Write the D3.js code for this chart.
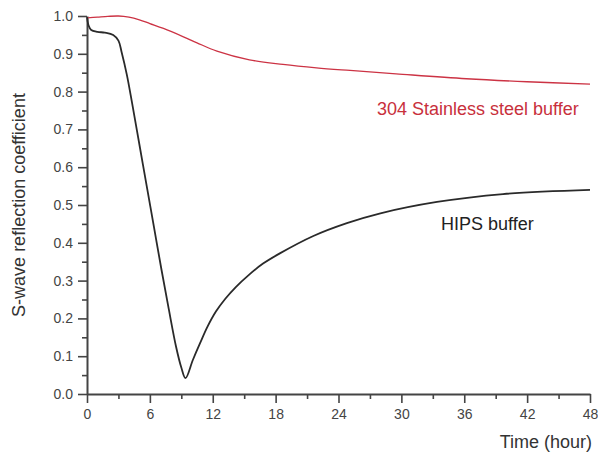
<!DOCTYPE html>
<html>
<head>
<meta charset="utf-8">
<script src="https://d3js.org/d3.v7.min.js"></script>
<style>
  body { margin: 0; background: #fff; }
  text { font-family: "Liberation Sans", Arial, sans-serif; }
</style>
</head>
<body>
<div id="chart-area"></div>
<script>
// data
var hipsTime = [0, 0.15, 0.4, 1, 1.7, 2.5, 3, 3.3, 3.8, 4.3, 5, 5.7, 6.4, 7.1, 7.8, 8.5, 9.0, 9.4, 10.1, 10.8, 11.5, 12.3, 13.2, 14.2, 15.4, 16.8, 18.4, 21.6, 24.8, 28, 33.4, 39.7, 48];
var hipsVal  = [0.997, 0.975, 0.963, 0.958, 0.956, 0.950, 0.935, 0.905, 0.845, 0.77, 0.66, 0.55, 0.44, 0.33, 0.225, 0.125, 0.07, 0.042, 0.09, 0.135, 0.178, 0.218, 0.252, 0.283, 0.314, 0.345, 0.372, 0.418, 0.452, 0.478, 0.508, 0.529, 0.540];

var steelTime = [0, 1, 2, 3, 4, 5, 6, 7.3, 9.2, 10.5, 12.4, 15.5, 18.7, 21.9, 25.1, 29.5, 36.2, 42, 48];
var steelVal  = [0.995, 0.997, 0.999, 1.0, 0.997, 0.99, 0.98, 0.967, 0.945, 0.929, 0.907, 0.884, 0.872, 0.863, 0.856, 0.847, 0.834, 0.826, 0.820];

var xTicks = [0, 6, 12, 18, 24, 30, 36, 42, 48];
var yTicks = [0.0, 0.1, 0.2, 0.3, 0.4, 0.5, 0.6, 0.7, 0.8, 0.9, 1.0];

var def = {
    width: 598,
    height: 453,
    left: 87,
    right: 590,
    top: 16,
    bottom: 394
};

var svg = d3.select('#chart-area').append('svg')
    .attr('width', def.width)
    .attr('height', def.height);

var x = d3.scaleLinear().domain([0, 48]).range([def.left, def.right]);
var y = d3.scaleLinear().domain([0, 1]).range([def.bottom, def.top]);

// minor ticks (midpoints)
var xMinor = d3.range(3, 48, 6);
var yMinor = d3.range(0.05, 1, 0.1);

var xAx = d3.axisBottom(x).tickValues(xTicks).tickSize(9).tickSizeOuter(0)
    .tickFormat(d3.format('d'));
var yAx = d3.axisLeft(y).tickValues(yTicks).tickSize(9).tickSizeOuter(0)
    .tickFormat(d3.format('.1f'));

svg.append('g')
    .attr('transform', 'translate(0,' + def.bottom + ')')
    .call(d3.axisBottom(x).tickValues(xMinor).tickSize(5).tickSizeOuter(0).tickFormat(''))
    .call(g => g.select('.domain').remove());
svg.append('g')
    .attr('transform', 'translate(' + def.left + ',0)')
    .call(d3.axisLeft(y).tickValues(yMinor).tickSize(5).tickSizeOuter(0).tickFormat(''))
    .call(g => g.select('.domain').remove());

var xg = svg.append('g')
    .attr('transform', 'translate(0,' + def.bottom + ')')
    .call(xAx);
var yg = svg.append('g')
    .attr('transform', 'translate(' + def.left + ',0)')
    .call(yAx);

svg.selectAll('.domain, .tick line')
    .attr('stroke', '#444')
    .attr('stroke-width', 1.6);
svg.selectAll('.domain').attr('stroke-width', 2);

xg.selectAll('.tick text')
    .attr('font-size', 14)
    .attr('fill', '#444')
    .attr('y', 15);
yg.selectAll('.tick text')
    .attr('font-size', 14)
    .attr('fill', '#444')
    .attr('x', -14);

// axis titles
svg.append('text')
    .attr('x', 592)
    .attr('y', 448)
    .attr('text-anchor', 'end')
    .attr('font-size', 18)
    .attr('fill', '#333')
    .text('Time (hour)');

svg.append('text')
    .attr('transform', 'translate(25,' + 205 + ') rotate(-90)')
    .attr('text-anchor', 'middle')
    .attr('font-size', 18)
    .attr('fill', '#333')
    .text('S-wave reflection coefficient');

// lines
var line = d3.line()
    .x(d => x(d[0]))
    .y(d => y(d[1]))
    .curve(d3.curveCatmullRom.alpha(0.5));

var steel = steelTime.map((t, i) => [t, steelVal[i]]);
var hips = hipsTime.map((t, i) => [t, hipsVal[i]]);

svg.append('path')
    .datum(steel)
    .attr('d', line)
    .attr('fill', 'none')
    .attr('stroke', '#cc3344')
    .attr('stroke-width', 1.3);

svg.append('path')
    .datum(hips)
    .attr('d', line)
    .attr('fill', 'none')
    .attr('stroke', '#2a2a2a')
    .attr('stroke-width', 1.8);

// curve labels
svg.append('text')
    .attr('x', 377)
    .attr('y', 115)
    .attr('font-size', 18)
    .attr('fill', '#c8303c')
    .text('304 Stainless steel buffer');

svg.append('text')
    .attr('x', 441)
    .attr('y', 230)
    .attr('font-size', 18)
    .attr('fill', '#222')
    .text('HIPS buffer');
</script>
</body>
</html>
